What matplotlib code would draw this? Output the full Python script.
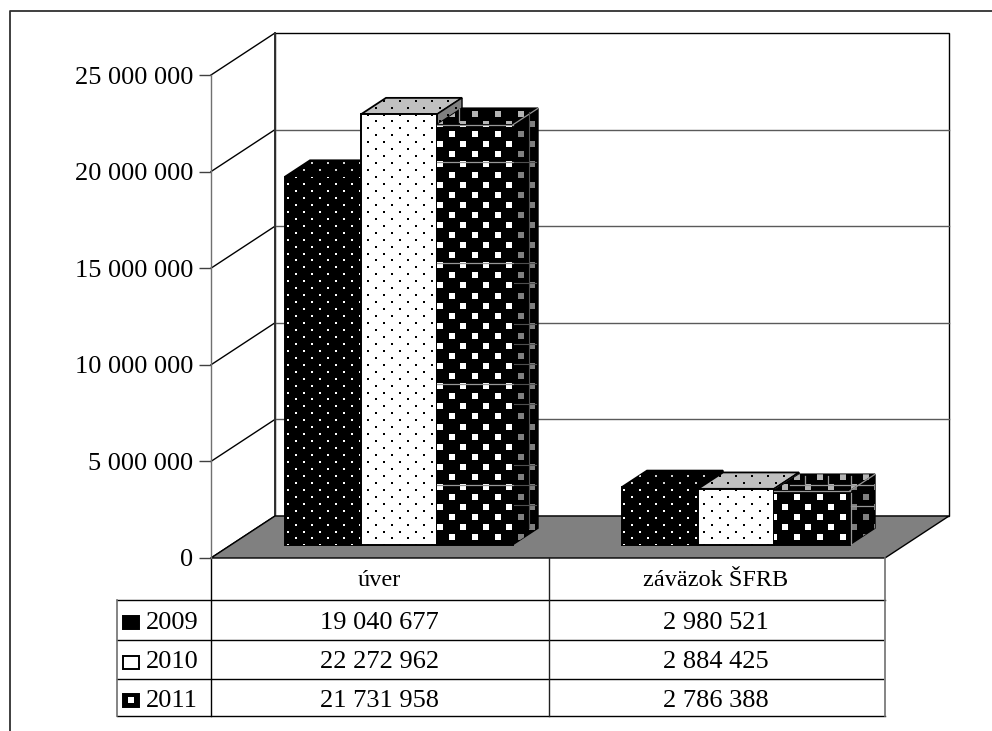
import numpy as np
import matplotlib
matplotlib.use('Agg')
import matplotlib.pyplot as plt
from matplotlib.patches import Polygon
from matplotlib.transforms import Affine2D

plt.rcParams['font.family'] = ['Liberation Serif', 'DejaVu Serif']

categories = ['úver', 'záväzok ŠFRB']
years = ['2009', '2010', '2011']
values_2009 = [19040677, 2980521]
values_2010 = [22272962, 2884425]
values_2011 = [21731958, 2786388]
yticks = [0, 5000000, 10000000, 15000000, 20000000, 25000000]

W, H = 992, 731
FONT = 19
DARK = '#5a5a5a'


def fmt(v):
    return '{:,}'.format(v).replace(',', ' ')


fig = plt.figure(figsize=(W / 100, H / 100), dpi=100, facecolor='white')
ax = fig.add_axes([211 / W, 1 - 558 / H, 674 / W, 483 / H])
ax.set_xlim(0, 2)
ax.set_ylim(0, 25000000)
ax.patch.set_visible(False)

# top-left pixel coordinates, only for the frame, table and fill patterns
px = Affine2D().scale(1, -1).translate(0, H) + Affine2D()

# oblique depth of the chart floor, in data units
depth_x = 64 / 337
depth_y = 42 / 483 * 25000000
bar_d0, bar_d1 = 0.32, 0.71
bar_left, bar_w = 0.159, 0.2255

zo = [3]


def next_z():
    zo[0] += 1
    return zo[0]


def proj(x, v, d):
    return (x + d * depth_x, v + d * depth_y)


def dots(patch, step_x, step_y, x0, y0, size, colour):
    rows = np.arange(-60, 70)
    xs, ys = [], []
    for r in rows:
        y = y0 + r * step_y
        shift = step_x / 2 if r % 2 else 0
        for x in np.arange(x0 - 30 * step_x + shift, W, step_x):
            xs.append(x)
            ys.append(y)
    sc = ax.scatter(xs, ys, s=(size * 0.72) ** 2, marker='s', c=colour,
                    linewidths=0, transform=px + Affine2D(), zorder=next_z())
    sc.set_clip_path(patch)


def face(pts, fill, edge, lw, pattern=None, dot_colour=None):
    p = Polygon(pts, closed=True, facecolor=fill, edgecolor=edge, linewidth=lw,
                clip_on=False, zorder=next_z(), joinstyle='miter')
    ax.add_patch(p)
    if pattern == 'small':
        dots(p, 16, 6.95, 287.5, 184, 2.2, dot_colour)
    elif pattern == 'large':
        dots(p, 23, 10.08, 440, 144.3, 6, dot_colour)
    return p


# walls and floor
back = [proj(0, 0, 1), proj(2, 0, 1), proj(2, 25000000, 1), proj(0, 25000000, 1)]
ax.add_patch(Polygon(back, closed=True, facecolor='white', edgecolor='black',
                     linewidth=1.0, clip_on=False, zorder=1))
for v in yticks[1:-1]:
    a, b = proj(0, v, 1), proj(2, v, 1)
    ax.plot([a[0], b[0]], [a[1], b[1]], color=DARK, lw=1.0, clip_on=False, zorder=1.5)
for v in yticks:
    a, b = proj(0, v, 0), proj(0, v, 1)
    ax.plot([a[0], b[0]], [a[1], b[1]], color='black', lw=1.0, clip_on=False, zorder=1.5)
a, b = proj(0, 0, 1), proj(0, 25000000, 1)
ax.plot([a[0], b[0]], [a[1], b[1]], color='#303030', lw=1.4, clip_on=False, zorder=1.6)
floor = [proj(0, 0, 0), proj(2, 0, 0), proj(2, 0, 1), proj(0, 0, 1)]
ax.add_patch(Polygon(floor, closed=True, facecolor='#808080', edgecolor='black',
                     linewidth=1.0, clip_on=False, zorder=2))

# bars, left to right so each front face covers the neighbour's side
styles = [
    dict(front='black', front_dot='white', top='black', top_dot='#d0d0d0', side='black', side_dot='#d0d0d0', pattern='small', edge='black'),
    dict(front='white', front_dot='black', top='#c0c0c0', top_dot='black', side='#808080', side_dot='black', pattern='small', edge='black'),
    dict(front='black', front_dot='white', top='black', top_dot='#b4b4b4', side='black', side_dot='#808080', pattern='large', edge='black'),
]
series = [values_2009, values_2010, values_2011]
for c in range(len(categories)):
    for s, (vals, st) in enumerate(zip(series, styles)):
        x0 = c + bar_left + s * bar_w
        x1 = x0 + bar_w
        v = vals[c]
        top = [proj(x0, v, bar_d0), proj(x1, v, bar_d0), proj(x1, v, bar_d1), proj(x0, v, bar_d1)]
        side = [proj(x1, 0, bar_d0), proj(x1, 0, bar_d1), proj(x1, v, bar_d1), proj(x1, v, bar_d0)]
        front = [proj(x0, 0, bar_d0), proj(x1, 0, bar_d0), proj(x1, v, bar_d0), proj(x0, v, bar_d0)]
        face(top, st['top'], st['edge'], 1.3, st['pattern'], st['top_dot'])
        face(side, st['side'], st['edge'], 1.0, st['pattern'], st['side_dot'])
        face(front, st['front'], st['edge'], 1.4, st['pattern'], st['front_dot'])
        if s == 2:
            # the 2011 faces have thin grey edges where the others have black
            z = next_z()
            for p, q in [(top[0], top[1]), (top[1], top[2])]:
                ax.plot([p[0], q[0]], [p[1], q[1]], color='#989898', lw=0.9, clip_on=False, zorder=z)

# grey seams on the 2011 bars, as they appear in the picture
z = next_z()
seams_light = [(437, 162, 513, 162), (437, 263, 513, 263), (437, 384, 513, 384), (437, 485, 513, 485),
               (459, 109, 459, 122), (790, 485, 873, 485), (805, 476, 805, 485), (828, 476, 828, 485),
               (851, 476, 851, 485), (851, 493, 851, 544), (851, 506, 873, 506)]
seams_dark = [(514, y, 536, y) for y in [162, 263, 283, 324, 344, 364, 384, 404, 465, 485, 505]]
seams_dark.append((529, 112, 529, 528))
for xa, ya, xb, yb in seams_light:
    ax.plot([xa, xb], [ya, yb], color='#989898', lw=0.9, transform=px, zorder=z, clip_on=False)
for xa, ya, xb, yb in seams_dark:
    ax.plot([xa, xb], [ya, yb], color='#505050', lw=0.8, transform=px, zorder=z, clip_on=False)

# value axis
ax.set_xticks([])
ax.set_yticks(yticks)
ax.set_yticklabels([fmt(v) for v in yticks], fontsize=FONT, color='black')
ax.tick_params(axis='y', length=8.6, width=1.0, color='#404040', pad=4)
for name in ['top', 'right', 'bottom']:
    ax.spines[name].set_visible(False)
ax.spines['left'].set_color('#707070')
ax.spines['left'].set_linewidth(1.0)
ax.spines['left'].set_zorder(2.5)

# data table
rows_y = [599.5, 640, 679, 716]
row_end = [885, 883, 883, 885]
for y, xb in zip(rows_y, row_end):
    ax.plot([117, xb], [y, y], color='black', lw=1.0, transform=px, clip_on=False)
ax.plot([211, 211], [558, 716], color='black', lw=1.0, transform=px, clip_on=False)
ax.plot([548.5, 548.5], [558, 716], color='#202020', lw=1.0, transform=px, clip_on=False)
ax.plot([885, 885], [558, 716], color='#707070', lw=1.2, transform=px, clip_on=False)
ax.plot([117, 117], [599.5, 716], color='#707070', lw=1.2, transform=px, clip_on=False)

cx = [379.5, 716]
for i, cat in enumerate(categories):
    ax.text(cx[i], 581, cat, ha='center', va='center', fontsize=FONT - 1.5, transform=px)
text_y = [623, 662, 701]
swatch_y = [616, 656, 694]
for r, (year, vals, st) in enumerate(zip(years, series, styles)):
    ax.text(146, text_y[r], year, ha='left', va='center', fontsize=FONT, transform=px)
    for i in range(2):
        ax.text(cx[i], text_y[r], fmt(vals[i]), ha='center', va='center', fontsize=FONT, transform=px)
    sw = Polygon([[123, swatch_y[r]], [139, swatch_y[r]], [139, swatch_y[r] + 13], [123, swatch_y[r] + 13]],
                 closed=True, facecolor=st['front'], edgecolor='black', lw=1.4,
                 transform=px, clip_on=False, zorder=5)
    ax.add_patch(sw)
ax.add_patch(Polygon([[128, 697], [134, 697], [134, 703], [128, 703]], closed=True,
                     facecolor='white', edgecolor='none', transform=px, clip_on=False, zorder=6))

# outer frame: left and top only, the top runs off the picture
ax.plot([10, 10, W], [H, 11, 11], color='#303030', lw=1.3, transform=px, clip_on=False)

fig.savefig('out.png', dpi=100, facecolor='white')
